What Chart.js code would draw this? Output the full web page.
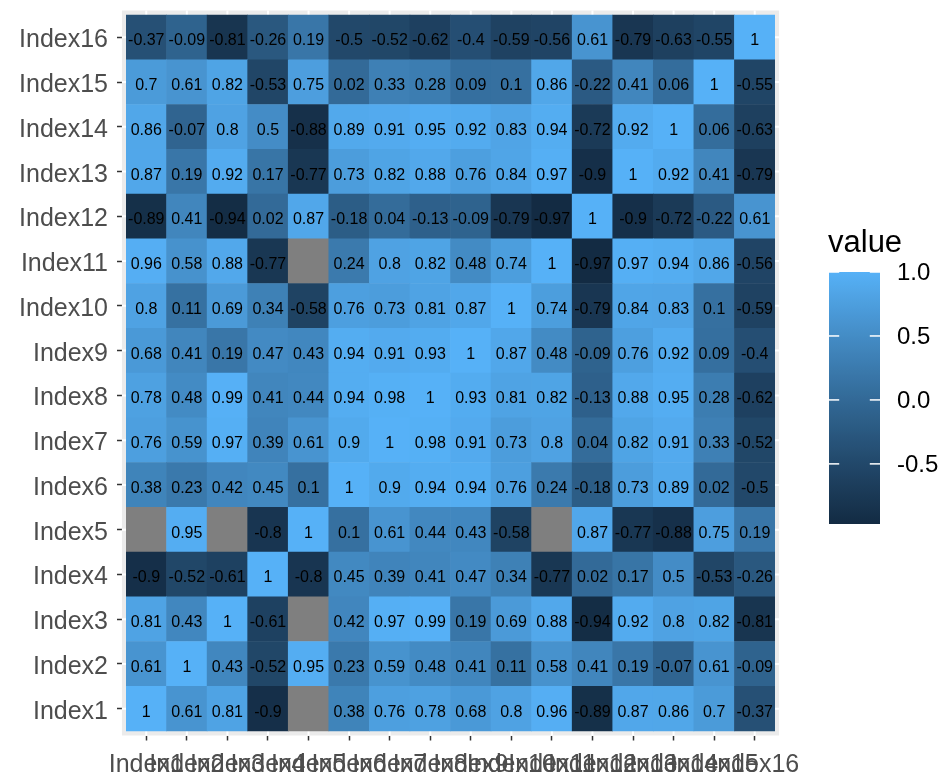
<!DOCTYPE html>
<html>
<head>
<meta charset="utf-8">
<script src="https://cdn.jsdelivr.net/npm/chart.js@4/dist/chart.umd.min.js"></script>
<style>
  html, body { margin: 0; padding: 0; background: #ffffff; }
  #wrap { width: 946px; height: 776px; position: relative; }
</style>
</head>
<body>
<div id="wrap"><canvas id="heat" width="946" height="776"></canvas></div>
<script>
// Axis categories (same set on both axes)
const indexLabels = ['Index1','Index2','Index3','Index4','Index5','Index6','Index7','Index8',
                     'Index9','Index10','Index11','Index12','Index13','Index14','Index15','Index16'];

// Correlation values, one array per row (row = y category), columns follow indexLabels
const row1  = [1, 0.61, 0.81, -0.9, null, 0.38, 0.76, 0.78, 0.68, 0.8, 0.96, -0.89, 0.87, 0.86, 0.7, -0.37];
const row2  = [0.61, 1, 0.43, -0.52, 0.95, 0.23, 0.59, 0.48, 0.41, 0.11, 0.58, 0.41, 0.19, -0.07, 0.61, -0.09];
const row3  = [0.81, 0.43, 1, -0.61, null, 0.42, 0.97, 0.99, 0.19, 0.69, 0.88, -0.94, 0.92, 0.8, 0.82, -0.81];
const row4  = [-0.9, -0.52, -0.61, 1, -0.8, 0.45, 0.39, 0.41, 0.47, 0.34, -0.77, 0.02, 0.17, 0.5, -0.53, -0.26];
const row5  = [null, 0.95, null, -0.8, 1, 0.1, 0.61, 0.44, 0.43, -0.58, null, 0.87, -0.77, -0.88, 0.75, 0.19];
const row6  = [0.38, 0.23, 0.42, 0.45, 0.1, 1, 0.9, 0.94, 0.94, 0.76, 0.24, -0.18, 0.73, 0.89, 0.02, -0.5];
const row7  = [0.76, 0.59, 0.97, 0.39, 0.61, 0.9, 1, 0.98, 0.91, 0.73, 0.8, 0.04, 0.82, 0.91, 0.33, -0.52];
const row8  = [0.78, 0.48, 0.99, 0.41, 0.44, 0.94, 0.98, 1, 0.93, 0.81, 0.82, -0.13, 0.88, 0.95, 0.28, -0.62];
const row9  = [0.68, 0.41, 0.19, 0.47, 0.43, 0.94, 0.91, 0.93, 1, 0.87, 0.48, -0.09, 0.76, 0.92, 0.09, -0.4];
const row10 = [0.8, 0.11, 0.69, 0.34, -0.58, 0.76, 0.73, 0.81, 0.87, 1, 0.74, -0.79, 0.84, 0.83, 0.1, -0.59];
const row11 = [0.96, 0.58, 0.88, -0.77, null, 0.24, 0.8, 0.82, 0.48, 0.74, 1, -0.97, 0.97, 0.94, 0.86, -0.56];
const row12 = [-0.89, 0.41, -0.94, 0.02, 0.87, -0.18, 0.04, -0.13, -0.09, -0.79, -0.97, 1, -0.9, -0.72, -0.22, 0.61];
const row13 = [0.87, 0.19, 0.92, 0.17, -0.77, 0.73, 0.82, 0.88, 0.76, 0.84, 0.97, -0.9, 1, 0.92, 0.41, -0.79];
const row14 = [0.86, -0.07, 0.8, 0.5, -0.88, 0.89, 0.91, 0.95, 0.92, 0.83, 0.94, -0.72, 0.92, 1, 0.06, -0.63];
const row15 = [0.7, 0.61, 0.82, -0.53, 0.75, 0.02, 0.33, 0.28, 0.09, 0.1, 0.86, -0.22, 0.41, 0.06, 1, -0.55];
const row16 = [-0.37, -0.09, -0.81, -0.26, 0.19, -0.5, -0.52, -0.62, -0.4, -0.59, -0.56, 0.61, -0.79, -0.63, -0.55, 1];
const rows = [row1, row2, row3, row4, row5, row6, row7, row8, row9, row10, row11, row12, row13, row14, row15, row16];

// Colour bar breaks and title
const legendBreaks = [-0.5, 0, 0.5, 1];
const legendTitle = 'value';

// ---- sequential gradient, interpolated in CIE Lab ----
const LOW = '#132B43', HIGH = '#56B1F7', NA_FILL = '#7F7F7F';
function hexRgb(h) { return [1, 3, 5].map(i => parseInt(h.slice(i, i + 2), 16)); }
function toLin(c) { c /= 255; return c <= 0.04045 ? c / 12.92 : Math.pow((c + 0.055) / 1.055, 2.4); }
function fromLin(c) {
  const v = c <= 0.0031308 ? 12.92 * c : 1.055 * Math.pow(c, 1 / 2.4) - 0.055;
  return Math.round(Math.max(0, Math.min(1, v)) * 255);
}
const Xn = 0.95047, Yn = 1.0, Zn = 1.08883;
function fLab(t) { return t > 0.008856 ? Math.cbrt(t) : 7.787 * t + 16 / 116; }
function fInv(t) { const t3 = t * t * t; return t3 > 0.008856 ? t3 : (t - 16 / 116) / 7.787; }
function rgbToLab(rgb) {
  const [r, g, b] = rgb.map(toLin);
  const X = 0.4124 * r + 0.3576 * g + 0.1805 * b;
  const Y = 0.2126 * r + 0.7152 * g + 0.0722 * b;
  const Z = 0.0193 * r + 0.1192 * g + 0.9505 * b;
  const fx = fLab(X / Xn), fy = fLab(Y / Yn), fz = fLab(Z / Zn);
  return [116 * fy - 16, 500 * (fx - fy), 200 * (fy - fz)];
}
function labToRgb([L, a, bb]) {
  const fy = (L + 16) / 116, fx = fy + a / 500, fz = fy - bb / 200;
  const X = fInv(fx) * Xn, Y = fInv(fy) * Yn, Z = fInv(fz) * Zn;
  const r = 3.2406 * X - 1.5372 * Y - 0.4986 * Z;
  const g = -0.9689 * X + 1.8758 * Y + 0.0415 * Z;
  const b = 0.0557 * X - 0.2040 * Y + 1.0570 * Z;
  return [fromLin(r), fromLin(g), fromLin(b)];
}
const labLow = rgbToLab(hexRgb(LOW)), labHigh = rgbToLab(hexRgb(HIGH));
const allVals = rows.flat().filter(v => v !== null);
const vMin = Math.min(...allVals), vMax = Math.max(...allVals);
function colourAt(t) {
  const lab = labLow.map((c, i) => c + (labHigh[i] - c) * t);
  const [r, g, b] = labToRgb(lab);
  return `rgb(${r},${g},${b})`;
}
function fillFor(v) {
  if (v === null) return NA_FILL;
  return colourAt((v - vMin) / (vMax - vMin));
}

// One floating-bar dataset per row; each bar spans its row band on the y scale
const datasets = rows.map((vals, r) => ({
  label: indexLabels[r],
  data: vals.map(() => [r + 0.5, r + 1.5]),
  cellValues: vals,
  backgroundColor: vals.map(fillFor),
  borderWidth: 0,
  borderSkipped: false,
  grouped: false,
  barPercentage: 1.0,
  categoryPercentage: 1.0
}));

// Grey panel with white grid, drawn beneath the tiles
const panelPlugin = {
  id: 'panel',
  beforeDatasetsDraw(chart) {
    const { ctx, chartArea: a, scales: { x, y } } = chart;
    const cw = (a.right - a.left) / indexLabels.length;
    const L = a.left - 0.1 * cw, R = a.right + 0.1 * cw;
    ctx.save();
    ctx.fillStyle = '#EBEBEB';
    ctx.fillRect(L, a.top, R - L, a.bottom - a.top);
    ctx.strokeStyle = '#FFFFFF';
    ctx.lineWidth = 2;
    indexLabels.forEach((_, i) => {
      const px = x.getPixelForValue(i);
      ctx.beginPath(); ctx.moveTo(px, a.top); ctx.lineTo(px, a.bottom); ctx.stroke();
      const py = y.getPixelForValue(i + 1);
      ctx.beginPath(); ctx.moveTo(L, py); ctx.lineTo(R, py); ctx.stroke();
    });
    ctx.restore();
  }
};

// Value text centred in each tile
const cellTextPlugin = {
  id: 'cellText',
  afterDatasetsDraw(chart) {
    const { ctx } = chart;
    ctx.save();
    ctx.font = '16px "Liberation Sans", Arial, sans-serif';
    ctx.fillStyle = '#000000';
    ctx.textAlign = 'center';
    ctx.textBaseline = 'middle';
    chart.data.datasets.forEach((ds, di) => {
      const meta = chart.getDatasetMeta(di);
      meta.data.forEach((el, i) => {
        const v = ds.cellValues[i];
        if (v === null) return;
        ctx.fillText(String(v), el.x, (el.y + el.base) / 2 + 3.5);
      });
    });
    ctx.restore();
  }
};

// Continuous colour bar legend
const colourBarPlugin = {
  id: 'colourBar',
  afterDraw(chart) {
    const { ctx } = chart;
    const bx = 829, bw = 51, top = 272, bottom = 524;
    const yFor = v => bottom - (v - vMin) / (vMax - vMin) * (bottom - top);
    ctx.save();
    const grad = ctx.createLinearGradient(0, bottom, 0, top);
    for (let k = 0; k <= 40; k++) grad.addColorStop(k / 40, colourAt(k / 40));
    ctx.fillStyle = grad;
    ctx.fillRect(bx, top, bw, bottom - top);
    ctx.strokeStyle = '#FFFFFF';
    ctx.lineWidth = 1.5;
    ctx.fillStyle = '#000000';
    ctx.font = '24px "Liberation Sans", Arial, sans-serif';
    ctx.textAlign = 'left';
    ctx.textBaseline = 'middle';
    legendBreaks.forEach(b => {
      const py = yFor(b);
      ctx.beginPath(); ctx.moveTo(bx, py); ctx.lineTo(bx + bw / 5, py); ctx.stroke();
      ctx.beginPath(); ctx.moveTo(bx + bw - bw / 5, py); ctx.lineTo(bx + bw, py); ctx.stroke();
      ctx.fillText(b.toFixed(1), 897, py + 1);
    });
    ctx.font = '31px "Liberation Sans", Arial, sans-serif';
    ctx.textBaseline = 'alphabetic';
    ctx.fillText(legendTitle, 828, 252);
    ctx.restore();
  }
};

new Chart(document.getElementById('heat'), {
  type: 'bar',
  data: { labels: indexLabels, datasets },
  plugins: [panelPlugin, cellTextPlugin, colourBarPlugin],
  options: {
    responsive: false,
    animation: false,
    devicePixelRatio: 1,
    layout: { padding: { left: 0, top: 10.5, right: 171, bottom: 0 } },
    plugins: { legend: { display: false }, tooltip: { enabled: false } },
    scales: {
      x: {
        type: 'category',
        offset: true,
        afterFit(s) { s.height = 40.5; s.paddingLeft = 0; s.paddingRight = 0; },
        border: { display: false },
        grid: { offset: false, drawOnChartArea: false, drawTicks: true, tickLength: 5, tickColor: '#333333', tickWidth: 1.5 },
        ticks: {
          autoSkip: false, maxRotation: 0, minRotation: 0, padding: 10,
          color: '#4D4D4D',
          font: { family: '"Liberation Sans", Arial, sans-serif', size: 25 }
        }
      },
      y: {
        type: 'linear',
        min: 0.4,
        max: 16.6,
        afterFit(s) { s.width = 126; s.paddingTop = 0; s.paddingBottom = 0; },
        afterBuildTicks(s) { s.ticks = indexLabels.map((_, i) => ({ value: i + 1 })); },
        border: { display: false },
        grid: { drawOnChartArea: false, drawTicks: true, tickLength: 9, tickColor: '#333333', tickWidth: 1.5 },
        ticks: {
          padding: 9,
          labelOffset: 3,
          color: '#4D4D4D',
          font: { family: '"Liberation Sans", Arial, sans-serif', size: 25 },
          callback: v => indexLabels[Math.round(v) - 1]
        }
      }
    }
  }
});
</script>
</body>
</html>
